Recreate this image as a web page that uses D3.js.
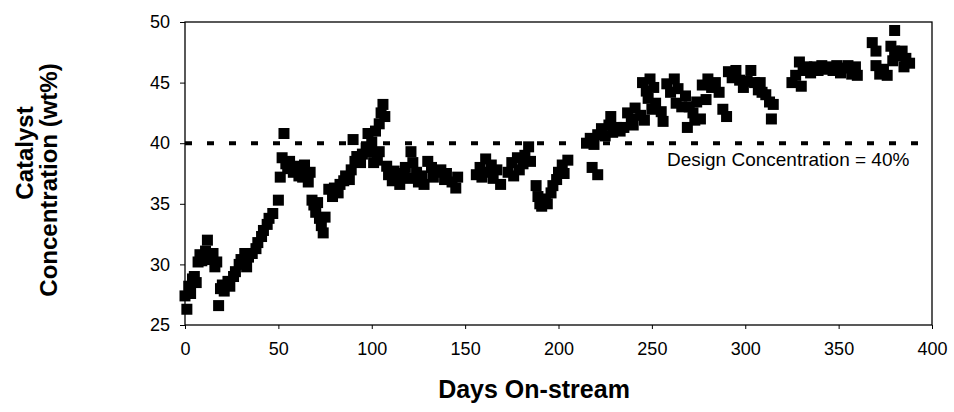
<!DOCTYPE html>
<html lang="en">
<head>
<meta charset="utf-8">
<title>Catalyst Concentration vs Days On-stream</title>
<script src="https://d3js.org/d3.v7.min.js"></script>
<style>
  body { margin: 0; background: #fff; }
  svg { display: block; font-family: "Liberation Sans", Arial, sans-serif; }
</style>
</head>
<body>
<script>
var days = [
  0, 1, 2, 3, 4, 5, 6, 7, 8, 9, 11, 12, 13, 15, 16, 17,
  18, 19, 20, 21, 23, 24, 26, 27, 29, 30, 32, 33, 34, 36, 38, 39, 41, 42, 44, 45, 47, 50, 51, 53,
  52, 54, 55, 56, 58, 59, 61, 62, 63, 64, 66, 67, 68, 69, 70, 71, 72, 73, 74, 75,
  77, 79, 80, 82, 83, 85, 86, 88, 89, 90, 91, 92, 94, 95, 97, 98, 99, 100, 101, 102, 103, 104, 104, 105, 106, 107,
  108, 109, 111, 112, 114, 115, 117, 118, 120, 121, 122, 124, 125, 127, 128, 130, 132, 133, 135, 137, 139, 140, 143, 145, 146,
  156, 158, 159, 161, 162, 164, 165, 167, 169,
  173, 175, 176, 178, 179, 181, 182, 184, 185,
  188, 189, 190, 191, 193, 194, 196, 197, 199, 200, 202, 203, 205,
  218, 221,
  215, 217, 219, 221, 223, 225, 227, 228, 229, 231, 233, 235, 237, 239, 240, 241, 244, 246,
  245, 247, 248, 249, 250, 251, 252, 255, 256, 258, 260, 262, 263, 264, 266, 268, 269, 270, 272, 273, 274, 276,
  277, 279, 280, 282, 284, 286, 288, 290, 291, 293, 295, 297, 299, 301, 303, 305, 307, 308, 309, 311, 313, 314, 315,
  325, 327, 329, 330, 331, 333, 335, 337, 339, 341, 343, 345, 347, 349, 351, 353, 355, 357, 359, 360,
  368, 370, 370, 372, 374, 376, 378, 379, 380, 380, 382, 384, 385, 386, 388
];
var conc = [
  27.4, 26.3, 28.2, 27.6, 28.8, 29.0, 28.5, 30.2, 30.8, 30.3, 31.1, 32.0, 30.4, 30.9, 29.8, 30.2,
  26.6, 28.0, 28.3, 27.8, 28.6, 28.2, 29.0, 29.4, 30.0, 30.4, 30.9, 29.8, 30.6, 30.9, 31.3, 31.8, 32.3, 32.8, 33.3, 33.8, 34.2, 35.3, 37.2, 40.8,
  38.8, 38.3, 37.9, 38.5, 37.6, 38.1, 37.3, 37.8, 37.2, 38.2, 36.8, 37.6, 35.3, 34.9, 34.3, 35.1, 33.8, 33.2, 32.6, 33.9,
  36.2, 35.6, 36.3, 35.9, 36.6, 36.9, 37.3, 37.0, 37.8, 40.3, 38.5, 38.9, 38.4, 39.1, 39.6, 40.8, 39.3, 40.1, 38.4, 41.0, 38.6, 41.6, 39.3, 42.5, 43.2, 42.2,
  38.1, 37.4, 36.9, 37.7, 37.2, 36.6, 37.5, 38.0, 37.1, 39.3, 38.4, 37.6, 36.8, 37.3, 36.6, 38.5, 38.0, 37.2, 37.6, 37.8, 37.0, 37.5, 36.8, 36.3, 37.2,
  37.4, 38.0, 37.2, 38.7, 37.6, 38.2, 37.1, 37.8, 36.6,
  37.6, 38.4, 37.3, 38.8, 37.8, 38.3, 39.0, 39.7, 38.5,
  36.5, 35.6, 35.0, 34.8, 35.4, 35.0, 35.9, 36.5, 37.0, 37.6, 38.2, 37.5, 38.6,
  38.0, 37.4,
  40.0, 40.4, 39.9, 40.7, 41.2, 40.6, 41.5, 42.2, 40.9, 41.3, 41.0, 41.3, 42.5, 42.0, 41.5, 42.9, 42.3, 41.9,
  45.0, 44.3, 43.7, 45.3, 42.8, 44.6, 43.3, 42.6, 41.8, 44.9, 44.2, 45.3, 43.3, 44.5, 43.0, 43.9, 41.3, 43.0, 42.5, 41.9, 43.4, 42.0,
  44.8, 43.6, 45.3, 44.6, 45.0, 44.2, 42.8, 42.2, 45.9, 45.4, 46.0, 45.2, 44.6, 45.1, 46.0, 45.0, 44.4, 45.0, 44.2, 44.0, 43.4, 42.0, 43.2,
  45.0, 45.6, 46.7, 44.7, 46.0, 46.3, 45.8, 46.3, 46.0, 46.4, 46.1, 46.3, 46.0, 46.4, 45.8, 46.2, 46.4, 45.7, 46.3, 45.6,
  48.3, 47.6, 46.4, 45.7, 46.1, 45.6, 48.0, 46.8, 49.3, 47.6, 47.2, 47.6, 46.3, 47.0, 46.6
];
var xTicks = [0, 50, 100, 150, 200, 250, 300, 350, 400];
var yTicks = [25, 30, 35, 40, 45, 50];
var designLevel = 40;

var width = 954, height = 412;

var svg = d3.select("body").append("svg")
    .attr("width", width)
    .attr("height", height);

var x = d3.scaleLinear().domain([0, 400]).range([185, 932]);
var y = d3.scaleLinear().domain([25, 50]).range([325, 22]);

// plot frame
svg.append("rect")
    .attr("x", x(0))
    .attr("y", y(50))
    .attr("width", x(400) - x(0))
    .attr("height", y(25) - y(50))
    .attr("fill", "none")
    .attr("stroke", "#000")
    .attr("stroke-width", 1.3);

var xAxis = svg.append("g")
    .attr("transform", "translate(0," + y(25) + ")")
    .call(d3.axisBottom(x).tickValues(xTicks).tickSize(4).tickSizeOuter(0).tickPadding(13));
var yAxis = svg.append("g")
    .attr("transform", "translate(" + x(0) + ",0)")
    .call(d3.axisLeft(y).tickValues(yTicks).tickSize(5).tickSizeOuter(0).tickPadding(10));

[xAxis, yAxis].forEach(function (g) {
    g.select(".domain").remove();
    g.selectAll("line").attr("stroke", "#000");
    g.selectAll("text")
        .attr("fill", "#000")
        .style("font-family", "'Liberation Sans', Arial, sans-serif")
        .style("font-size", "18px");
});

// design concentration line
svg.append("line")
    .attr("x1", x(0))
    .attr("x2", x(400))
    .attr("y1", y(designLevel))
    .attr("y2", y(designLevel))
    .attr("stroke", "#000")
    .attr("stroke-width", 4)
    .attr("stroke-dasharray", "7,15");

svg.append("text")
    .attr("x", 667)
    .attr("y", 166)
    .style("font-size", "19px")
    .text("Design Concentration = 40%");

// data markers
var size = 11;
svg.append("g").selectAll("rect")
    .data(d3.zip(days, conc))
    .enter()
    .append("rect")
    .attr("x", function (d) { return x(d[0]) - size / 2; })
    .attr("y", function (d) { return y(d[1]) - size / 2; })
    .attr("width", size)
    .attr("height", size)
    .attr("fill", "#000");

// axis titles
svg.append("text")
    .attr("x", 534)
    .attr("y", 398)
    .attr("text-anchor", "middle")
    .style("font-size", "25px")
    .style("font-weight", "bold")
    .text("Days On-stream");

svg.append("text")
    .attr("transform", "translate(33,153) rotate(-90)")
    .attr("text-anchor", "middle")
    .style("font-size", "24px")
    .style("font-weight", "bold")
    .text("Catalyst");

svg.append("text")
    .attr("transform", "translate(57,180) rotate(-90)")
    .attr("text-anchor", "middle")
    .style("font-size", "24px")
    .style("font-weight", "bold")
    .text("Concentration (wt%)");
</script>
</body>
</html>
